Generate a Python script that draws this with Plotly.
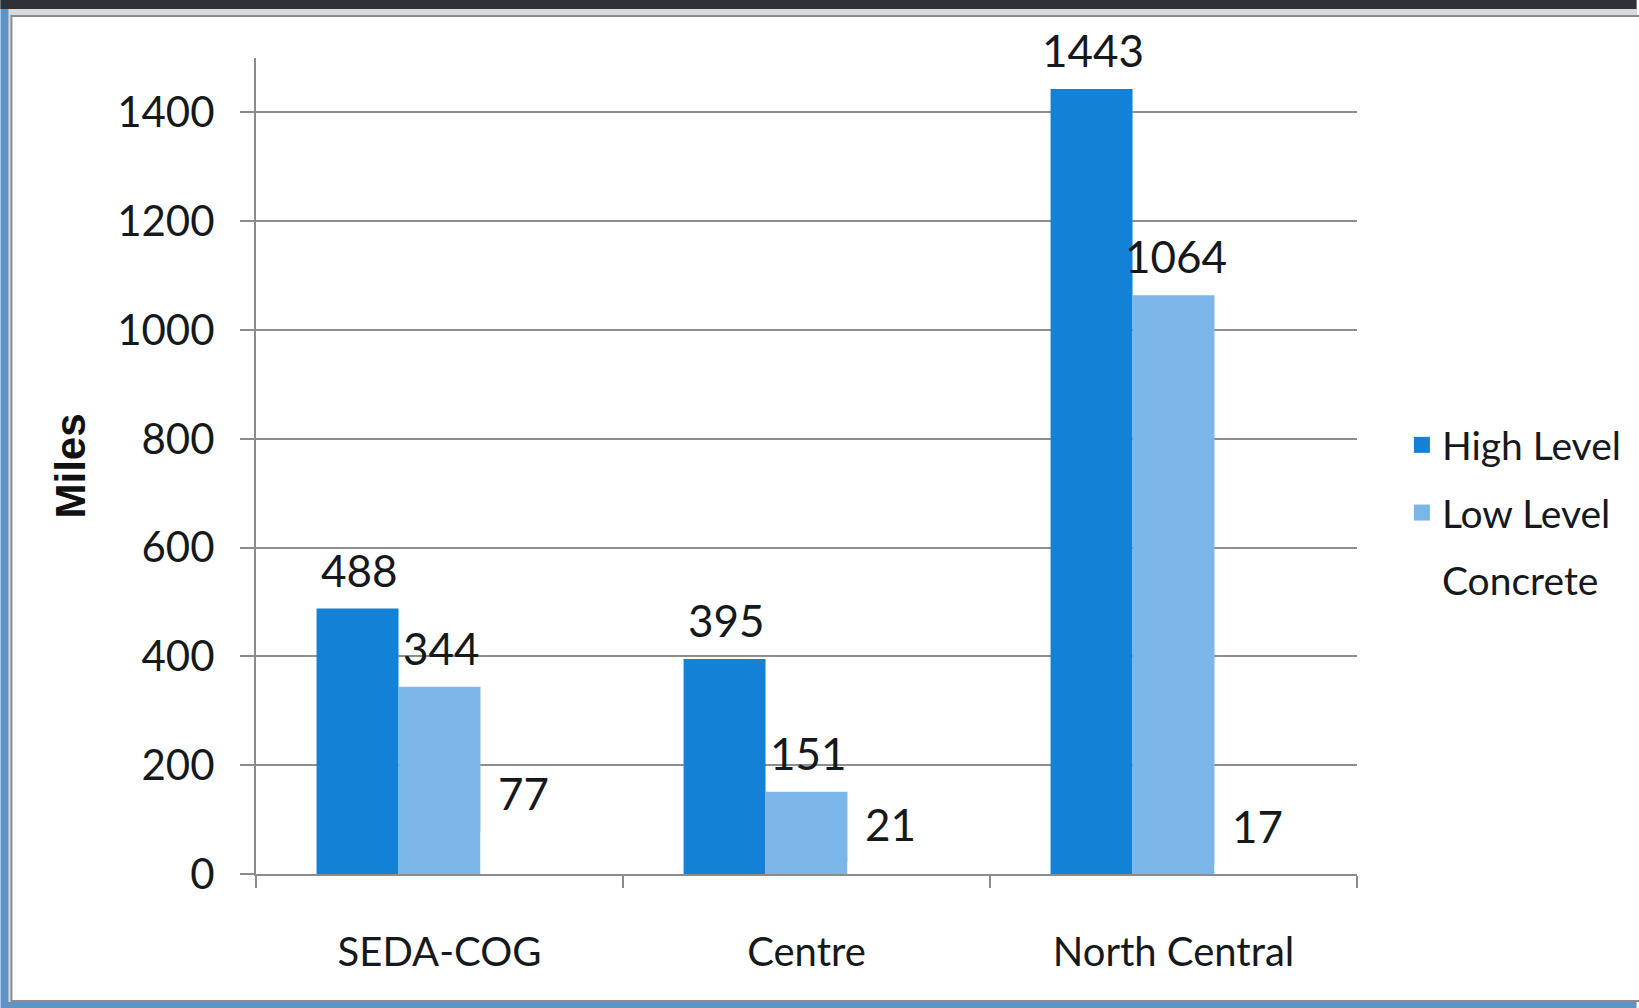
import plotly.graph_objects as go

categories = ["SEDA-COG", "Centre", "North Central"]
high_level = [488, 395, 1443]
low_level = [344, 151, 1064]
concrete = [77, 21, 17]
y_ticks = [0, 200, 400, 600, 800, 1000, 1200, 1400]

W, H = 1639, 1008
L, R, T, B = 256, 280, 58, 134
PW, PH = W - L - R, H - T - B
BARGAP = 0.33

def px(x):
    return (x - L) / PW

def py(y):
    return 1 - (y - T) / PH

FONT = "Lato"
TXT = "#16191c"
C_HIGH = "#1281d6"
C_LOW = "#7cb6e8"
C_CON = "#ffffff"

series = [("High Level", high_level, C_HIGH),
          ("Low Level", low_level, C_LOW),
          ("Concrete", concrete, C_CON)]

fig = go.Figure()
annotations = []
bar_w = (PW / len(categories)) * (1 - BARGAP) / len(series)
for i, (name, vals, col) in enumerate(series):
    fig.add_trace(go.Bar(
        x=categories, y=vals, name=name, marker_color=col,
        marker_line_width=0, showlegend=False,
    ))
    fig.add_trace(go.Scatter(
        x=[None], y=[None], mode="markers", name=name, legendgroup=name,
        marker=dict(symbol="square", size=22, color=col),
    ))
    off = (i - (len(series) - 1) / 2) * bar_w
    for c, v in zip(categories, vals):
        annotations.append(dict(
            x=c, y=v, xref="x", yref="y", text=str(v), showarrow=False,
            xanchor="center", yanchor="bottom", xshift=off + 2, yshift=11,
            font=dict(family=FONT, size=44, color=TXT),
        ))

shapes = [
    dict(type="rect", xref="paper", yref="paper", x0=px(0), x1=px(W), y0=py(H), y1=py(0),
         fillcolor="#5d93c7", line_width=0, layer="below"),
    dict(type="rect", xref="paper", yref="paper", x0=px(0), x1=px(W), y0=py(9), y1=py(0),
         fillcolor="#2e3236", line_width=0, layer="below"),
    dict(type="rect", xref="paper", yref="paper", x0=px(8), x1=px(W), y0=py(1002), y1=py(9),
         fillcolor="#d8dadc", line_width=0, layer="below"),
    dict(type="rect", xref="paper", yref="paper", x0=px(11), x1=px(W + 5), y0=py(1001), y1=py(16),
         fillcolor="#ffffff", line=dict(color="#8a8c8e", width=2), layer="below"),
]

fig.update_layout(
    width=W, height=H,
    margin=dict(l=L, r=R, t=T, b=B),
    paper_bgcolor="#ffffff", plot_bgcolor="rgba(0,0,0,0)",
    barmode="group", bargap=BARGAP, bargroupgap=0,
    font=dict(family=FONT, size=40, color=TXT),
    shapes=shapes, annotations=annotations,
    legend=dict(x=px(1404), y=py(413), xanchor="left", yanchor="top",
                font=dict(family=FONT, size=39, color=TXT),
                bgcolor="rgba(0,0,0,0)", itemwidth=30, tracegroupgap=14),
    xaxis=dict(showgrid=False, showline=True, linecolor="#8c8c8c", linewidth=2,
               ticks="outside", tickson="boundaries", ticklen=12, tickcolor="#8c8c8c",
               tickwidth=2, tickfont=dict(family=FONT, size=40, color=TXT),
               ticklabelstandoff=42),
    yaxis=dict(range=[0, 1500], tickvals=y_ticks, showgrid=True, gridcolor="#8e8e8e",
               gridwidth=1.5, showline=True, linecolor="#8c8c8c", linewidth=2,
               ticks="outside", ticklen=14, tickcolor="#8c8c8c", tickwidth=2,
               tickfont=dict(family=FONT, size=42, color=TXT), ticklabelstandoff=17,
               zeroline=False,
               title=dict(text="<b>Miles</b>", font=dict(family="Liberation Sans", size=42, color="#111111"),
                          standoff=18)),
)

fig.write_html("out.html", config={"displayModeBar": False},
               post_script="document.body.style.margin='0';")
